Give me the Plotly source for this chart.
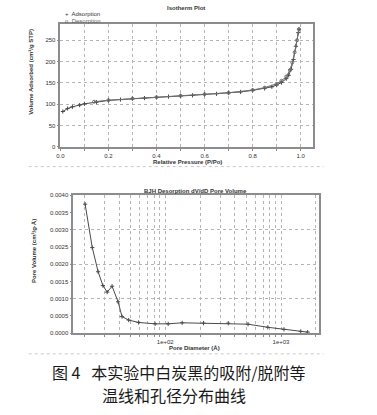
import plotly.graph_objects as go

W, H = 377, 415

# ---------------- data ----------------
ads_p = [0.01, 0.03, 0.05, 0.08, 0.10, 0.15, 0.20, 0.25, 0.30, 0.35, 0.40, 0.45,
         0.50, 0.55, 0.60, 0.65, 0.70, 0.75, 0.80, 0.85, 0.88, 0.90, 0.92, 0.94,
         0.95, 0.96, 0.97, 0.98, 0.99, 0.993]
ads_v = [83, 90, 94, 98, 101, 105, 109, 111, 113, 114.5, 116, 118,
         119.5, 121, 123, 124.5, 126.5, 129, 132.5, 137, 141, 145, 151, 160,
         168, 182, 205, 236, 268, 276]

des_p = [0.993, 0.985, 0.975, 0.965, 0.955, 0.94, 0.92, 0.90, 0.85, 0.80,
         0.70, 0.60, 0.50, 0.40, 0.30, 0.20, 0.14]
des_v = [276, 250, 222, 198, 180, 165, 155, 148, 139, 133.5,
         127, 123.5, 120, 116.5, 113.5, 109.5, 106]

bjh_d = [20.3, 23.4, 26.3, 28.9, 31.5, 34.7, 39.1, 42.3, 48.3, 58.8, 81.7,
         106, 140, 214, 350, 519, 769, 1061, 1480, 1700]
bjh_v = [0.00374, 0.00248, 0.00178, 0.00138, 0.00119, 0.00136, 0.00091, 0.00048,
         0.00038, 0.00031, 0.00027, 0.00027, 0.00030, 0.00029, 0.00029, 0.00026,
         0.00017, 0.00011, 0.00005, 0.00003]

iso_xticks = [0.0, 0.1, 0.2, 0.3, 0.4, 0.5, 0.6, 0.7, 0.8, 0.9, 1.0]
iso_xtext = ["0.0", "", "0.2", "", "0.4", "", "0.6", "", "0.8", "", "1.0"]
iso_yticks = [0, 50, 100, 150, 200, 250]

bjh_xticks = [20, 30, 40, 50, 60, 70, 80, 90, 100, 200, 300, 400, 500, 600,
              700, 800, 900, 1000, 2000]
bjh_xtext = ["", "", "", "", "", "", "", "", "1e+02", "", "", "", "", "", "",
             "", "", "1e+03", ""]
bjh_yticks = [0.0, 0.0005, 0.0010, 0.0015, 0.0020, 0.0025, 0.0030, 0.0035, 0.0040]
bjh_ytext = ["0.0000", "0.0005", "0.0010", "0.0015", "0.0020", "0.0025",
             "0.0030", "0.0035", "0.0040"]
bjh_ygrid = [0.0, 0.0010, 0.0020, 0.0030, 0.0040]


def px(x):
    return x / W


def py(y):
    return 1 - y / H


LINE = "#4a4a4a"
AX = "#8c8c8c"
GRID = "#b5b5b5"
TXT = "#333333"
SMALL = dict(family="Liberation Sans, Arial", size=6, color=TXT)

fig = go.Figure()

fig.add_trace(go.Scatter(x=ads_p, y=ads_v, mode="lines+markers", name="Adsorption",
                         line=dict(color=LINE, width=1),
                         marker=dict(symbol="cross-thin", size=3,
                                     line=dict(color=LINE, width=1)),
                         xaxis="x", yaxis="y", showlegend=False))
fig.add_trace(go.Scatter(x=des_p, y=des_v, mode="lines+markers", name="Desorption",
                         line=dict(color="#707070", width=1),
                         marker=dict(symbol="circle-open", size=3,
                                     line=dict(color="#707070", width=1)),
                         xaxis="x", yaxis="y", showlegend=False))
fig.add_trace(go.Scatter(x=bjh_d, y=bjh_v, mode="lines+markers", name="BJH",
                         line=dict(color=LINE, width=1),
                         marker=dict(symbol="cross-thin", size=3,
                                     line=dict(color=LINE, width=1)),
                         xaxis="x2", yaxis="y2", showlegend=False))

axis_common = dict(showline=True, linecolor=AX, linewidth=1.5, mirror=True,
                   ticks="outside", ticklen=2, tickcolor=AX, tickfont=SMALL,
                   zeroline=False)
grid_common = dict(gridcolor=GRID, griddash="dot", gridwidth=1)

fig.update_layout(
    width=W, height=H,
    margin=dict(l=0, r=0, t=0, b=0),
    paper_bgcolor="white", plot_bgcolor="white",
    showlegend=False,
    xaxis=dict(domain=[px(57), px(312)], range=[0, 1.05],
               tickmode="array", tickvals=iso_xticks, ticktext=iso_xtext,
               anchor="y", **axis_common, **grid_common),
    yaxis=dict(domain=[py(146), py(21)], range=[0, 289],
               tickmode="array", tickvals=iso_yticks,
               anchor="x", **axis_common, **grid_common),
    xaxis2=dict(domain=[px(70), px(318)], type="log", range=[1.205, 3.325],
                tickmode="array", tickvals=bjh_xticks, ticktext=bjh_xtext,
                anchor="y2", **axis_common, **grid_common),
    yaxis2=dict(domain=[py(335), py(195)], range=[0, 0.0040],
                tickmode="array", tickvals=bjh_yticks, ticktext=bjh_ytext,
                showgrid=False, anchor="x2", **axis_common),
    yaxis3=dict(domain=[py(335), py(195)], range=[0, 0.0040], overlaying="y2",
                anchor="x2", tickmode="array", tickvals=bjh_ygrid,
                showticklabels=False, showgrid=True, showline=False,
                zeroline=False, ticks="", **grid_common),
)

# invisible trace so the grid overlay axis is drawn
fig.add_trace(go.Scatter(x=[bjh_d[0]], y=[bjh_v[0]], mode="markers",
                         marker=dict(opacity=0), xaxis="x2", yaxis="y3",
                         showlegend=False, hoverinfo="skip"))

ann = []


def A(text, x, y, size=6, angle=0, xanchor="center", family="Liberation Sans, Arial",
      color=TXT):
    ann.append(dict(text=text, x=px(x), y=py(y), xref="paper", yref="paper",
                    showarrow=False, xanchor=xanchor, yanchor="middle",
                    textangle=angle, font=dict(family=family, size=size, color=color)))


A("<b>Isotherm Plot</b>", 184, 5, size=6)
A("+  Adsorption", 60, 11, size=6, xanchor="left")
A("o  Desorption", 60, 18, size=6, xanchor="left", color="#666666")
A("<b>Volume Adsorbed (cm³/g STP)</b>", 27, 70, size=6, angle=-90)
A("<b>Relative Pressure (P/Po)</b>", 185, 161, size=6)

A("<b>BJH Desorption dV/dD Pore Volume</b>", 194, 191, size=6)
A("<b>Pore Volume (cm³/g·Å)</b>", 31, 252, size=6, angle=-90)
A("<b>Pore Diameter (Å)</b>", 193, 350, size=6)

CJK = "Noto Sans CJK SC"
A("图 4\u00a0\u00a0\u00a0本实验中白炭黑的吸附/脱附等", 46, 374, size=16,
  xanchor="left", family=CJK, color="#1a1a1a")
A("温线和孔径分布曲线", 172, 398, size=16, family=CJK, color="#1a1a1a")

fig.update_layout(annotations=ann)

shapes = [
    dict(type="line", xref="paper", yref="paper", x0=px(25), x1=px(323),
         y0=py(166), y1=py(166), line=dict(color="#c8c8c8", width=1, dash="dot")),
    dict(type="line", xref="paper", yref="paper", x0=px(25), x1=px(323),
         y0=py(356), y1=py(356), line=dict(color="#c8c8c8", width=1, dash="dot")),
]
fig.update_layout(shapes=shapes)

fig.write_html("out.html", config={"displayModeBar": False},
               post_script="document.body.style.margin='0';document.body.style.overflow='hidden';")
